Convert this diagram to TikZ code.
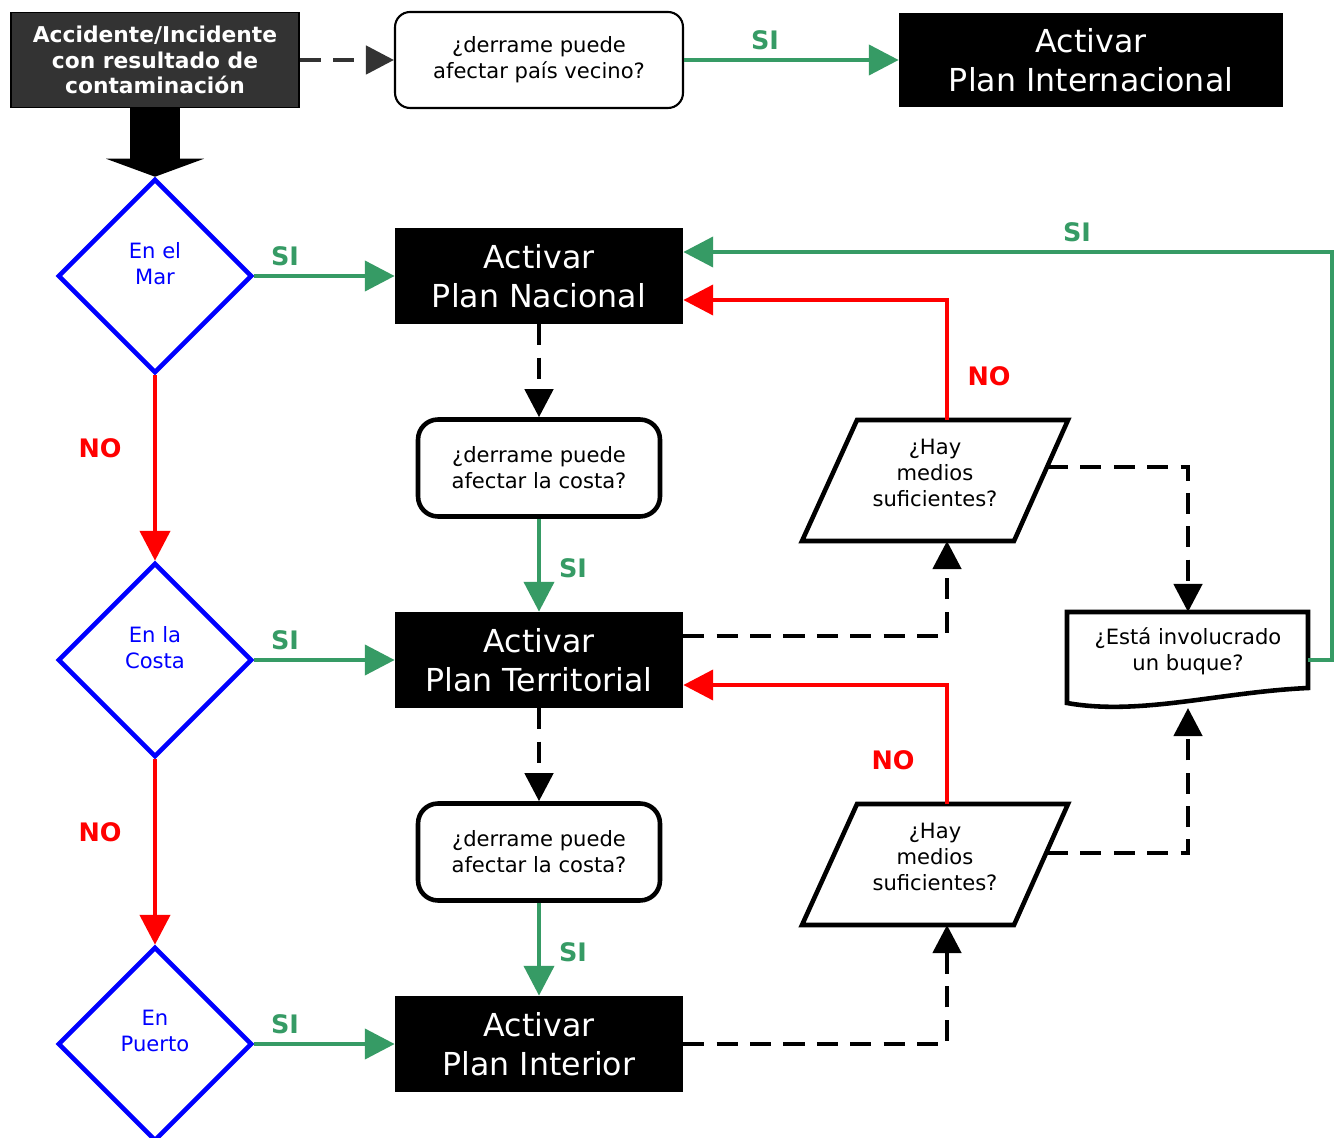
\documentclass[tikz,border=0pt]{standalone}
\usepackage{fontspec}
\setmainfont{DejaVu Sans}
\usetikzlibrary{arrows.meta,shapes.geometric,calc}
\definecolor{sigreen}{RGB}{54,155,101}
\definecolor{accgray}{RGB}{51,51,51}
\begin{document}
\begin{tikzpicture}[x=0.02cm,y=-0.02cm,
 smalltxt/.style={font=\fontsize{12}{14.7}\selectfont, align=center},
 bigtxt/.style={font=\fontsize{18}{22}\selectfont, align=center},
 planbox/.style={bigtxt, fill=black, text=white, minimum width=5.76cm, minimum height=1.92cm, inner sep=0pt},
 qbox/.style={smalltxt, draw, rounded corners=0.4cm, line width=2.6pt, minimum width=4.84cm, minimum height=1.94cm, inner sep=0pt},
 decision/.style={diamond, draw=blue, line width=2.6pt, text=blue, minimum width=3.88cm, minimum height=3.88cm, smalltxt, inner sep=0pt, aspect=1},
 shapeline/.style={draw, line width=2.6pt, line join=miter},
 siarrow/.style={draw=sigreen, line width=2.6pt, -{Triangle[length=17pt,width=17pt]}},
 noarrow/.style={draw=red, line width=2.6pt, -{Triangle[length=17pt,width=17pt]}},
 dasharrow/.style={draw=black, line width=2.6pt, dash pattern=on 12pt off 7pt, -{Triangle[length=16pt,width=16pt]}},
 silabel/.style={font=\fontsize{14.5}{17}\selectfont\bfseries, text=sigreen, inner sep=0pt},
 nolabel/.style={font=\fontsize{14.5}{17}\selectfont\bfseries, text=red, inner sep=0pt},
]
\useasboundingbox (0,0) rectangle (1341,1138);
\fill[white] (0,0) rectangle (1341,1138);

% top row
\node[draw=black, line width=1pt, fill=accgray, text=white, font=\fontsize{12.4}{14.7}\selectfont\bfseries, align=center, minimum width=5.76cm, minimum height=1.9cm, inner sep=0pt] (acc) at (155,60) {Accidente/Incidente\\con resultado de\\contaminación};
\node[smalltxt, draw, line width=1.2pt, rounded corners=0.3cm, minimum width=5.76cm, minimum height=1.92cm, inner sep=0pt] (vec) at (539,60) {¿derrame puede\\afectar país vecino?};
\node[planbox, minimum width=7.68cm, minimum height=1.9cm] (intl) at (1091,60) {Activar\\Plan Internacional};

% plans
\node[planbox] (nac) at (539,276) {Activar\\Plan Nacional};
\node[planbox] (ter) at (539,660) {Activar\\Plan Territorial};
\node[planbox] (inter) at (539,1044) {Activar\\Plan Interior};

% question boxes
\node[qbox] (c1) at (539,468) {¿derrame puede\\afectar la costa?};
\node[qbox] (c2) at (539,852) {¿derrame puede\\afectar la costa?};

% decisions
\node[decision] (d1) at (155,276) {En el\\Mar\\\mbox{}};
\node[decision] (d2) at (155,660) {En la\\Costa\\\mbox{}};
\node[decision] (d3) at (155,1044) {En\\Puerto\\\mbox{}};

% parallelograms
\draw[shapeline] (802,541) -- (1014,541) -- (1068,420) -- (857,420) -- cycle;
\node[smalltxt] (p1) at (935,473) {¿Hay\\medios\\suficientes?};
\draw[shapeline] (802,925) -- (1014,925) -- (1068,804) -- (857,804) -- cycle;
\node[smalltxt] (p2) at (935,857) {¿Hay\\medios\\suficientes?};
\coordinate (p1t) at (947,420);
\coordinate (p1b) at (947,541);
\coordinate (p1r) at (1047,467);
\coordinate (p2t) at (947,804);
\coordinate (p2b) at (947,925);
\coordinate (p2r) at (1047,853);

% document shape
\draw[shapeline] (1067,612) -- (1308,612) -- (1308,688) .. controls (1220,692) and (1140,716) .. (1067,703) -- cycle;
\node[smalltxt] (doc) at (1188,651) {¿Está involucrado\\un buque?};
\coordinate (docN) at (1188,612);
\coordinate (docS) at (1188,708);
\coordinate (docE) at (1308,660);

% big block arrow
\draw[line width=1.02cm] (acc.south) -- ([yshift=0.36cm]d1.north);
\fill ($(d1.north)+(-49,-18)$) -- (d1.north) -- ($(d1.north)+(49,-18)$) -- cycle;

% connectors
\draw[draw=accgray, line width=2.6pt, dash pattern=on 12pt off 7pt, -{Triangle[length=16pt,width=16pt]}] (acc.east) -- (vec.west);
\draw[siarrow] (vec.east) -- (intl.west);
\node[silabel] (s0) at (765,40) {SI};

\draw[siarrow] (d1.east) -- (nac.west);
\node[silabel] (s1) at (285,256) {SI};
\draw[siarrow] (d2.east) -- (ter.west);
\node[silabel] (s2) at (285,640) {SI};
\draw[siarrow] (d3.east) -- (inter.west);
\node[silabel] (s3) at (285,1024) {SI};

\draw[noarrow] (d1.south) -- (d2.north);
\node[nolabel] (n1) at (100,448) {NO};
\draw[noarrow] (d2.south) -- (d3.north);
\node[nolabel] (n2) at (100,832) {NO};

\draw[dasharrow] (nac.south) -- (c1.north);
\draw[siarrow] (c1.south) -- (ter.north);
\node[silabel] (s4) at (573,568) {SI};
\draw[dasharrow] (ter.south) -- (c2.north);
\draw[siarrow] (c2.south) -- (inter.north);
\node[silabel] (s5) at (573,952) {SI};

\draw[noarrow] (p1t) |- ([yshift=-0.48cm]nac.east);
\node[nolabel] (n3) at (989,376) {NO};
\draw[noarrow] (p2t) |- ([yshift=-0.5cm]ter.east);
\node[nolabel] (n4) at (893,760) {NO};

\draw[dasharrow] ([yshift=0.48cm]ter.east) -| (p1b);
\draw[dasharrow] (inter.east) -| (p2b);
\draw[dasharrow] (p1r) -| (docN);
\draw[dasharrow] (p2r) -| (docS);

\draw[siarrow] (docE) -- (1332,660) |- ([yshift=0.48cm]nac.east);
\node[silabel] (s6) at (1077,232) {SI};
\end{tikzpicture}
\end{document}
